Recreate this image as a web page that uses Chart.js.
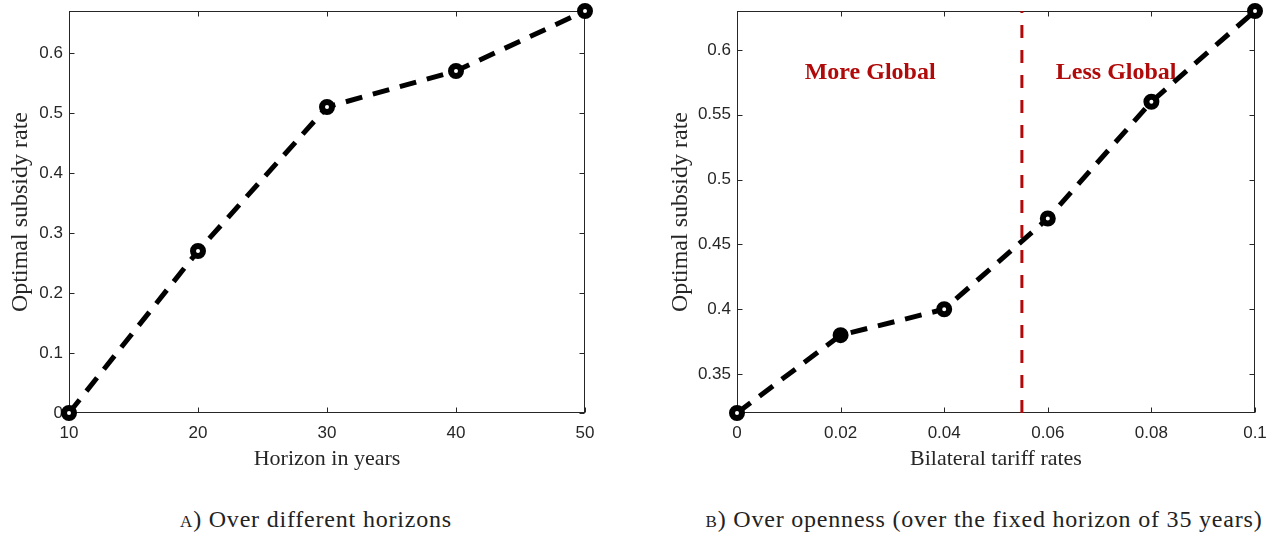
<!DOCTYPE html>
<html><head><meta charset="utf-8">
<script src="https://cdn.jsdelivr.net/npm/chart.js@4.4.0/dist/chart.umd.min.js"></script>
<style>
html,body{margin:0;padding:0;background:#fff;}
body{width:1273px;height:535px;position:relative;overflow:hidden;}
canvas{position:absolute;top:0;}
#ca{left:0;}
#cb{left:640px;}
.cap{position:absolute;top:506px;line-height:26px;font-family:"Liberation Serif",serif;font-size:24px;letter-spacing:0.8px;color:#222;white-space:nowrap;transform:translateX(-50%);}
.sc{font-variant:small-caps;}
</style></head>
<body>
<canvas id="ca" width="620" height="480"></canvas>
<canvas id="cb" width="633" height="480"></canvas>
<div class="cap" style="left:316px"><span class="sc">a</span>) Over different horizons</div>
<div class="cap" style="left:984px"><span class="sc">b</span>) Over openness (over the fixed horizon of 35 years)</div>
<script>
// ---- data ----
const horizonYears = [10, 20, 30, 40, 50];
const subsidyByHorizon = [0, 0.27, 0.51, 0.57, 0.67];
const tariffRates = [0, 0.02, 0.04, 0.06, 0.08, 0.1];
const subsidyByTariff = [0.32, 0.38, 0.40, 0.47, 0.56, 0.63];
const xTicksA = [10, 20, 30, 40, 50];
const yTicksA = [0, 0.1, 0.2, 0.3, 0.4, 0.5, 0.6];
const xTicksB = [0, 0.02, 0.04, 0.06, 0.08, 0.1];
const yTicksB = [0.35, 0.4, 0.45, 0.5, 0.55, 0.6];
const thresholdTariff = 0.055;
const regionLabels = ['More Global', 'Less Global'];
const regionLabelX = [0.0257, 0.0732];
const regionLabelY = 0.582;

const fmt = v => String(Math.round(v * 1000) / 1000);
const AX = '#262626';
const RED = '#b00a0a';

const boxPlugin = {
  id: 'matlabBox',
  beforeDatasetsDraw(chart) {
    const {ctx, chartArea: a, scales: {x, y}} = chart;
    ctx.save();
    ctx.strokeStyle = AX;
    ctx.lineWidth = 1;
    const L = Math.round(a.left) + 0.5, R = Math.round(a.right) - 0.5;
    const T = Math.round(a.top) + 0.5, B = Math.round(a.bottom) - 0.5;
    ctx.strokeRect(L, T, R - L, B - T);
    ctx.beginPath();
    const tl = 5;
    x.ticks.forEach(t => {
      const px = Math.round(x.getPixelForValue(t.value)) + 0.5;
      ctx.moveTo(px, B); ctx.lineTo(px, B - tl);
      ctx.moveTo(px, T); ctx.lineTo(px, T + tl);
    });
    y.ticks.forEach(t => {
      const py = Math.round(y.getPixelForValue(t.value)) + 0.5;
      ctx.moveTo(L, py); ctx.lineTo(L + tl, py);
      ctx.moveTo(R, py); ctx.lineTo(R - tl, py);
    });
    ctx.stroke();
    const opt = chart.options.plugins.matlabBox || {};
    if (opt.threshold !== undefined) {
      const px = x.getPixelForValue(opt.threshold);
      ctx.strokeStyle = RED;
      ctx.lineWidth = 3;
      ctx.setLineDash([13, 12]);
      ctx.beginPath();
      ctx.moveTo(px, a.bottom); ctx.lineTo(px, a.top);
      ctx.stroke();
      ctx.setLineDash([]);
    }
    if (opt.labels) {
      ctx.fillStyle = RED;
      ctx.font = 'bold 24px "Liberation Serif"';
      ctx.textAlign = 'center';
      ctx.textBaseline = 'middle';
      opt.labels.forEach((s, i) => {
        ctx.fillText(s, x.getPixelForValue(opt.labelX[i]), y.getPixelForValue(opt.labelY));
      });
    }
    ctx.restore();
  }
};

function makeChart(id, xs, ys, xt, yt, xmin, xmax, ymin, ymax, xTitle, yWidth, yTitlePad, padRight, extra, solidIdx) {
  return new Chart(document.getElementById(id), {
    type: 'line',
    data: {
      datasets: [{
        data: xs.map((v, i) => ({x: v, y: ys[i]})),
        borderColor: '#000',
        borderWidth: 5,
        borderDash: [17, 11],
        pointRadius: 5,
        pointHoverRadius: 5,
        pointBorderWidth: 6,
        pointBackgroundColor: c => (c.dataIndex === solidIdx ? '#000' : '#fff'),
        pointBorderColor: '#000',
        fill: false,
        tension: 0,
        clip: false
      }]
    },
    options: {
      responsive: false,
      animation: false,
      events: [],
      layout: {padding: {left: 0, right: padRight, top: 9, bottom: 0}},
      plugins: {legend: {display: false}, tooltip: {enabled: false}, matlabBox: extra || {}},
      scales: {
        x: {
          type: 'linear', min: xmin, max: xmax,
          afterBuildTicks: s => { s.ticks = xt.map(v => ({value: v})); },
          afterFit: s => { s.height = 67; s.paddingLeft = 0; s.paddingRight = 0; },
          grid: {display: false, drawTicks: false},
          border: {display: false},
          ticks: {padding: 10, autoSkip: false, maxRotation: 0, color: AX,
                  font: {family: 'Liberation Sans', size: 17}, callback: v => fmt(v)},
          title: {display: true, text: xTitle, color: AX,
                  font: {family: 'Liberation Serif', size: 22}, padding: {top: 0, bottom: 8}}
        },
        y: {
          type: 'linear', min: ymin, max: ymax,
          afterBuildTicks: s => { s.ticks = yt.map(v => ({value: v})); },
          afterFit: s => { s.width = yWidth; s.paddingTop = 0; s.paddingBottom = 0; },
          grid: {display: false, drawTicks: false},
          border: {display: false},
          ticks: {padding: 6, autoSkip: false, color: AX,
                  font: {family: 'Liberation Sans', size: 17}, callback: v => fmt(v)},
          title: {display: true, text: 'Optimal subsidy rate', color: AX,
                  font: {family: 'Liberation Serif', size: 24}, padding: {top: yTitlePad, bottom: 0}}
        }
      }
    },
    plugins: [boxPlugin]
  });
}

makeChart('ca', horizonYears, subsidyByHorizon, xTicksA, yTicksA, 10, 50, 0, 0.67,
  'Horizon in years', 69, 6, 35, null, -1);
makeChart('cb', tariffRates, subsidyByTariff, xTicksB, yTicksB, 0, 0.1, 0.32, 0.63,
  'Bilateral tariff rates', 97, 26, 18,
  {threshold: thresholdTariff, labels: regionLabels, labelX: regionLabelX, labelY: regionLabelY}, 1);
</script>
</body></html>
